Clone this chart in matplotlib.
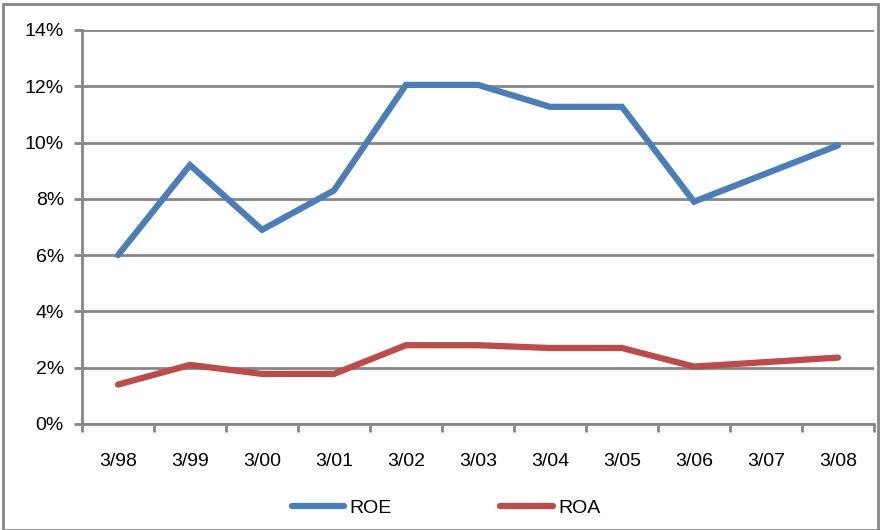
import matplotlib.pyplot as plt
from matplotlib import patches
from matplotlib.ticker import FixedLocator, FuncFormatter

plt.rcParams['font.family'] = ['Liberation Sans', 'DejaVu Sans']

periods = ['3/98', '3/99', '3/00', '3/01', '3/02', '3/03', '3/04', '3/05', '3/06', '3/07', '3/08']
roe = [6.0, 9.2, 6.9, 8.3, 12.05, 12.05, 11.27, 11.27, 7.9, 8.9, 9.9]
roa = [1.4, 2.1, 1.78, 1.78, 2.8, 2.8, 2.7, 2.7, 2.04, 2.2, 2.36]

grey = '#868686'

fig = plt.figure(figsize=(8.83, 5.30), dpi=100)
fig.patches.append(patches.Rectangle((3 / 883, 0), 875 / 883, 526 / 530, transform=fig.transFigure,
                                     fill=False, ec=grey, lw=2))
ax = fig.add_axes([82 / 883, 106 / 530, 792 / 883, 394 / 530])

x = list(range(len(periods)))
l1, = ax.plot(x, roe, color='#4A7EBB', lw=4.5, solid_capstyle='round', solid_joinstyle='miter', label='ROE')
l2, = ax.plot(x, roa, color='#BE4B48', lw=4.5, solid_capstyle='round', solid_joinstyle='miter', label='ROA')

ax.set_xlim(-0.5, len(periods) - 0.5)
ax.set_ylim(0, 14)
ax.set_yticks(range(0, 15, 2))
ax.yaxis.set_major_formatter(FuncFormatter(lambda v, p: '%d%%' % v))
ax.grid(axis='y', color=grey, lw=2)
ax.set_axisbelow(True)

ax.xaxis.set_major_locator(FixedLocator([i - 0.5 for i in range(len(periods) + 1)]))
ax.xaxis.set_minor_locator(FixedLocator(x))
ax.set_xticklabels([])
ax.set_xticklabels(periods, minor=True)
ax.tick_params(axis='x', which='major', length=6, width=2, color=grey)
ax.tick_params(axis='x', which='minor', length=0, pad=21, labelsize=14)
ax.tick_params(axis='y', length=6, width=2, color=grey, labelsize=14, pad=7)

for s in ['top', 'right']:
    ax.spines[s].set_visible(False)
for s in ['left', 'bottom']:
    ax.spines[s].set_color(grey)
    ax.spines[s].set_linewidth(2)

fig.legend(handles=[l1, l2], loc='center', bbox_to_anchor=(446 / 883, 1 - 508 / 530), ncol=2,
           frameon=False, fontsize=14, handlelength=2.7, columnspacing=5.6, handletextpad=0.26)

fig.savefig('out.png', dpi=100)
